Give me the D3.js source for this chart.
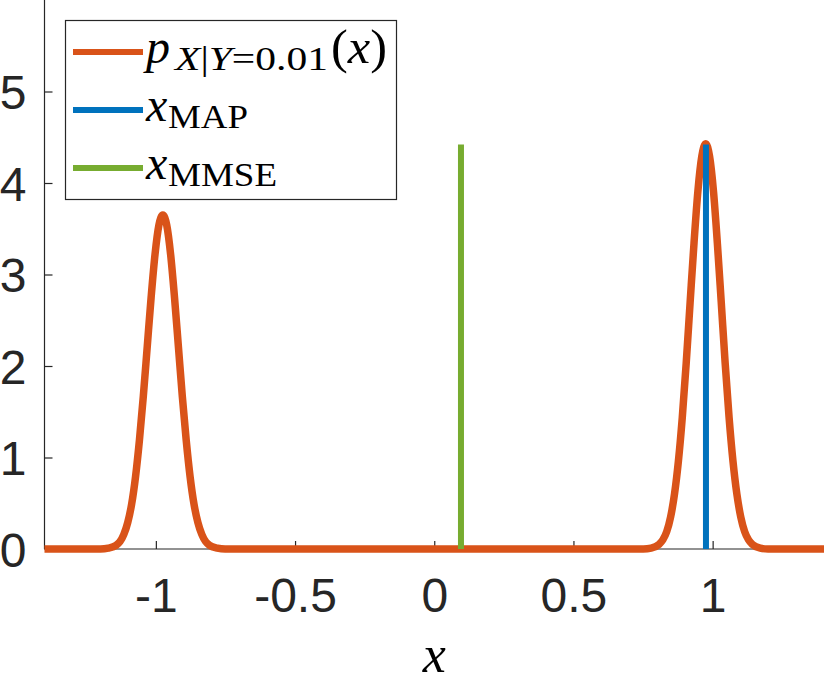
<!DOCTYPE html>
<html>
<head>
<meta charset="utf-8">
<script src="https://cdn.jsdelivr.net/npm/d3@7"></script>
<style>
  body { margin: 0; background: #fff; }
</style>
</head>
<body>
<div id="chart"></div>
<script>
// values: posterior density p(x | Y = 0.01)
var densityX = [-1.4, -1.199, -1.171, -1.143, -1.129, -1.115, -1.101, -1.087, -1.073, -1.059, -1.045,
  -1.031, -1.017, -1.003, -0.989, -0.975, -0.961, -0.947, -0.933, -0.919, -0.905, -0.891, -0.877,
  -0.863, -0.849, -0.835, -0.821, -0.807, -0.779, -0.751,
  0.751, 0.779, 0.807, 0.821, 0.835, 0.849, 0.863, 0.877, 0.891, 0.905, 0.919, 0.933, 0.947, 0.961,
  0.975, 0.989, 1.003, 1.017, 1.031, 1.045, 1.059, 1.073, 1.087, 1.101, 1.115, 1.129, 1.143, 1.171,
  1.199, 1.4];
var densityY = [0, 0, 0.01, 0.04, 0.08, 0.16, 0.29, 0.49, 0.79, 1.19, 1.67,
  2.21, 2.75, 3.22, 3.54, 3.65, 3.54, 3.22, 2.75, 2.21, 1.67, 1.19, 0.79,
  0.49, 0.29, 0.16, 0.08, 0.04, 0.01, 0,
  0, 0.01, 0.05, 0.10, 0.19, 0.35, 0.60, 0.96, 1.44, 2.03, 2.69, 3.34, 3.91, 4.29,
  4.43, 4.29, 3.91, 3.34, 2.69, 2.03, 1.44, 0.96, 0.60, 0.35, 0.19, 0.10, 0.05, 0.01,
  0, 0];
var xMAP = 0.976, yMAP = 4.42;
var xMMSE = 0.096, yMMSE = 4.42;
var xTicks = [-1, -0.5, 0, 0.5, 1];
var yTicks = [0, 1, 2, 3, 4, 5];
var legendMain = ["p", "x", "x"];
var legendSub = ["X|Y=0.01", "MAP", "MMSE"];
var legendTail = ["(x)", "", ""];
var legendColors = ["#D95319", "#0072BD", "#77AC30"];

var W = 830, H = 682;
var margin = {top: 0, right: 6, bottom: 133, left: 44.5},
    width = W - margin.left - margin.right,
    height = H - margin.top - margin.bottom;

var x = d3.scaleLinear().domain([-1.4, 1.4]).range([0, width]);
var y = d3.scaleLinear().domain([0, 6]).range([height, 0]);

var svg = d3.select("#chart").append("svg")
    .attr("width", W)
    .attr("height", H)
  .append("g")
    .attr("transform", "translate(" + margin.left + "," + margin.top + ")");

// axes (MATLAB look: ticks inward, box off)
var axisColor = "#262626";
var xAxis = svg.append("g")
    .attr("transform", "translate(0," + height + ")")
    .call(d3.axisBottom(x).tickValues(xTicks).tickSize(-8).tickPadding(29)
      .tickFormat(function(d) { return d; }));
var yAxis = svg.append("g")
    .call(d3.axisLeft(y).tickValues(yTicks).tickSize(-8).tickPadding(18)
      .tickFormat(d3.format("d")));
[xAxis, yAxis].forEach(function(a) {
  a.select(".domain").attr("stroke", axisColor).attr("stroke-width", 1.2);
  a.selectAll(".tick line").attr("stroke", axisColor).attr("stroke-width", 1.2);
  a.selectAll(".tick text").style("font-family", "'Liberation Sans', Arial, sans-serif")
    .style("font-size", "48px").attr("fill", axisColor);
});
yAxis.selectAll(".tick text").attr("dy", "0.36em");
xAxis.selectAll(".tick text").attr("dy", "0.71em");
xAxis.select(".domain").attr("d", "M0,0H" + width);
yAxis.select(".domain").attr("d", "M0," + height + "V0");

// density curve
var pts = densityX.map(function(d, i) { return [d, densityY[i]]; });
var line = d3.line()
    .x(function(d) { return x(d[0]); })
    .y(function(d) { return y(d[1]); })
    .curve(d3.curveMonotoneX);
svg.append("path")
    .datum(pts)
    .attr("fill", "none")
    .attr("stroke", "#D95319")
    .attr("stroke-width", 7.5)
    .attr("stroke-linejoin", "round")
    .attr("d", line);

// MAP and MMSE estimates
svg.append("line")
    .attr("x1", x(xMAP)).attr("x2", x(xMAP))
    .attr("y1", y(0)).attr("y2", y(yMAP))
    .attr("stroke", "#0072BD").attr("stroke-width", 6);
svg.append("line")
    .attr("x1", x(xMMSE)).attr("x2", x(xMMSE))
    .attr("y1", y(0)).attr("y2", y(yMMSE))
    .attr("stroke", "#77AC30").attr("stroke-width", 6);

// x label
svg.append("text")
    .attr("x", x(0)).attr("y", 672)
    .attr("text-anchor", "middle")
    .attr("fill", "#000")
    .style("font-family", "'Liberation Serif', 'DejaVu Serif', serif")
    .style("font-style", "italic")
    .style("font-size", "52px")
    .text("x");

// legend
var serif = "'Liberation Serif', 'DejaVu Serif', serif";
var lg = d3.select("svg").append("g");
lg.append("rect")
    .attr("x", 65.5).attr("y", 20.5).attr("width", 331).attr("height", 179)
    .attr("fill", "#fff").attr("stroke", axisColor).attr("stroke-width", 1.2);
// widths of the subscripts as seen in the picture (the LaTeX font is wider)
var subLen = [153, 80, 109];
legendMain.forEach(function(m, i) {
  var ly = 52 + i * 58;
  lg.append("line")
    .attr("x1", 73).attr("x2", 143).attr("y1", ly).attr("y2", ly)
    .attr("stroke", legendColors[i]).attr("stroke-width", 6);
  lg.append("text")
    .attr("x", 146).attr("y", ly + 11)
    .attr("fill", "#000")
    .style("font-family", serif).style("font-size", "48px").style("font-style", "italic")
    .text(m);
  var subX = i === 0 ? 175 : 168;
  var s = lg.append("text")
    .attr("x", subX).attr("y", ly + 18)
    .attr("fill", "#000")
    .attr("textLength", subLen[i]).attr("lengthAdjust", "spacingAndGlyphs")
    .style("font-family", serif).style("font-size", "34px");
  if (i === 0) {
    s.append("tspan").style("font-style", "italic").text("X");
    s.append("tspan").text("|");
    s.append("tspan").style("font-style", "italic").text("Y");
    s.append("tspan").text("=0.01");
  } else {
    s.text(legendSub[i]);
  }
  if (legendTail[i]) {
    var t = lg.append("text")
      .attr("x", 331).attr("y", ly + 11)
      .attr("fill", "#000")
      .attr("textLength", 56).attr("lengthAdjust", "spacingAndGlyphs")
      .style("font-family", serif).style("font-size", "48px");
    t.append("tspan").text("(");
    t.append("tspan").style("font-style", "italic").text("x");
    t.append("tspan").text(")");
  }
});
</script>
</body>
</html>
